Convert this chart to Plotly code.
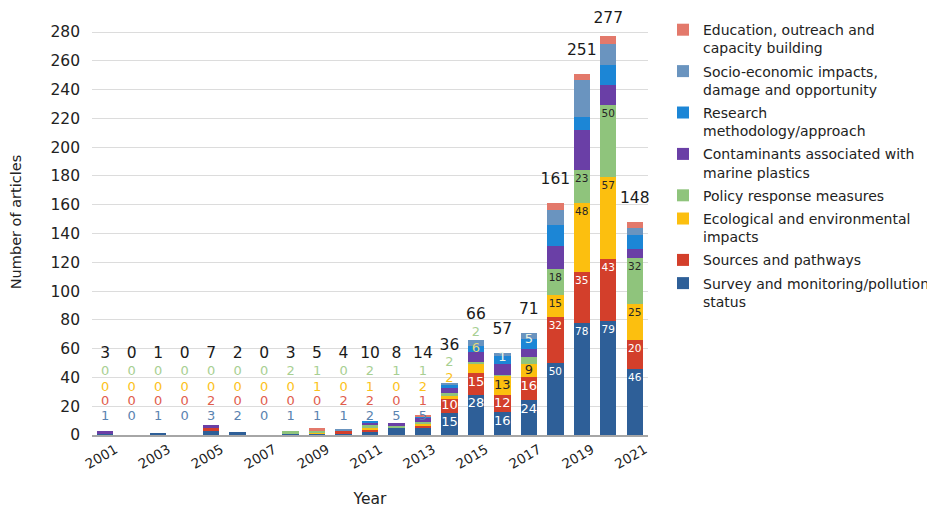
import plotly.graph_objects as go

# Articles per year and research theme
years = list(range(2001, 2022))
survey = [1, 0, 1, 0, 3, 2, 0, 1, 1, 1, 2, 5, 5, 15, 28, 16, 24, 50, 78, 79, 46]
sources = [0, 0, 0, 0, 2, 0, 0, 0, 0, 2, 2, 0, 1, 10, 15, 12, 16, 32, 35, 43, 20]
ecological = [0, 0, 0, 0, 0, 0, 0, 0, 1, 0, 1, 0, 2, 2, 6, 13, 9, 15, 48, 57, 25]
policy = [0, 0, 0, 0, 0, 0, 0, 2, 1, 0, 2, 1, 1, 2, 2, 1, 5, 18, 23, 50, 32]
contaminants = [2, 0, 0, 0, 2, 0, 0, 0, 0, 0, 2, 2, 3, 4, 7, 7, 6, 16, 28, 14, 6]
research = [0, 0, 0, 0, 0, 0, 0, 0, 0, 0, 1, 0, 1, 2, 4, 6, 7, 15, 9, 14, 10]
socio = [0, 0, 0, 0, 0, 0, 0, 0, 0, 1, 0, 0, 0, 1, 4, 2, 4, 10, 26, 15, 5]
education = [0, 0, 0, 0, 0, 0, 0, 0, 2, 0, 0, 0, 1, 0, 0, 0, 0, 5, 4, 5, 4]

names = [
    "Survey and monitoring/pollution<br>status",
    "Sources and pathways",
    "Ecological and environmental<br>impacts",
    "Policy response measures",
    "Contaminants associated with<br>marine plastics",
    "Research<br>methodology/approach",
    "Socio-economic impacts,<br>damage and opportunity",
    "Education, outreach and<br>capacity building",
]
colors = ["#2e5f98", "#d33f2b", "#fcbf0f", "#8fc47c",
          "#6a3fa6", "#1c86d6", "#6a94bf", "#e3796b"]

series = [survey, sources, ecological, policy, contaminants, research, socio, education]
totals = [sum(v) for v in zip(*series)]

fig = go.Figure()
for n, (name, vals, col) in enumerate(zip(names, series, colors)):
    # top of the stack goes first in the legend
    fig.add_bar(x=years, y=vals, name=name, marker_color=col,
                marker_line_width=0, legendgroup=str(n), legendrank=8 - n)

# label rows above the small early bars
row_y = [12.5, 23, 33, 44]
row_col = ["#5a83b0", "#df5d4d", "#fcc21a", "#a8cf92"]
special = {(2, 2014): 39, (3, 2014): 50, (2, 2015): 60, (3, 2015): 71,
           (3, 2016): 54, (3, 2017): 66}
pale = {2: "#e3da7a", 3: "#eef6e6"}
inside_col = ["white", "white", "#262626", "#262626"]

lx, ly, lt, lc, ls = [], [], [], [], []
highest = [0] * len(years)
for k in range(4):
    base = [sum(s[i] for s in series[:k]) for i in range(len(years))]
    for i, yr in enumerate(years):
        v = series[k][i]
        if yr <= 2013:
            y = row_y[k]; c = row_col[k]; s = 13
            highest[i] = max(highest[i], y)
        elif (k, yr) in special:
            y = special[(k, yr)]; s = 13
            c = pale[k] if y < totals[i] else row_col[k]
            highest[i] = max(highest[i], y)
        else:
            y = base[i] + v - min(6.5, v / 2)
            c = inside_col[k]; s = 13 if yr <= 2017 else 10.5
        lx.append(yr); ly.append(y); lt.append(str(v)); lc.append(c); ls.append(s)

fig.add_scatter(x=lx, y=ly, text=lt, mode="text", showlegend=False,
                hoverinfo="skip", cliponaxis=False,
                textfont=dict(color=lc, size=ls))

fig.add_scatter(x=years,
                y=[min(max(t + 16, h + 12), 289) for t, h in zip(totals, highest)],
                text=[str(t) for t in totals], mode="text", showlegend=False,
                hoverinfo="skip", cliponaxis=False,
                textfont=dict(color="#1a1a1a", size=15.5))

# page body adds an 8px offset, so the figure is 8px smaller than the window
fig.update_layout(
    width=927, height=506,
    barmode="stack", bargap=0.38,
    plot_bgcolor="white", paper_bgcolor="white",
    margin=dict(l=84, r=287, t=1, b=79, autoexpand=False),
    font=dict(family="DejaVu Sans, Arial, sans-serif", color="#222"),
    legend=dict(traceorder="grouped", tracegroupgap=2,
                x=1.027, y=0.988, xanchor="left", yanchor="top",
                valign="top", font=dict(size=14, color="#222")),
)
fig.update_yaxes(range=[0, 296], tickvals=list(range(0, 281, 20)),
                 gridcolor="#dcdcdc", zeroline=False, showline=False,
                 tickfont=dict(size=15.5), ticklabelstandoff=11,
                 automargin=False,
                 title=dict(text="Number of articles", font=dict(size=14.5),
                            standoff=30))
fig.update_xaxes(range=[2000.5, 2021.5], tickvals=list(range(2001, 2022, 2)),
                 tickangle=-30, tickfont=dict(size=13.5), showgrid=False,
                 ticklabelshift=10,
                 showline=True, linecolor="#a6a6a6", linewidth=1.5,
                 automargin=False,
                 title=dict(text="Year", font=dict(size=15.5), standoff=22))

fig.write_html("out.html")
